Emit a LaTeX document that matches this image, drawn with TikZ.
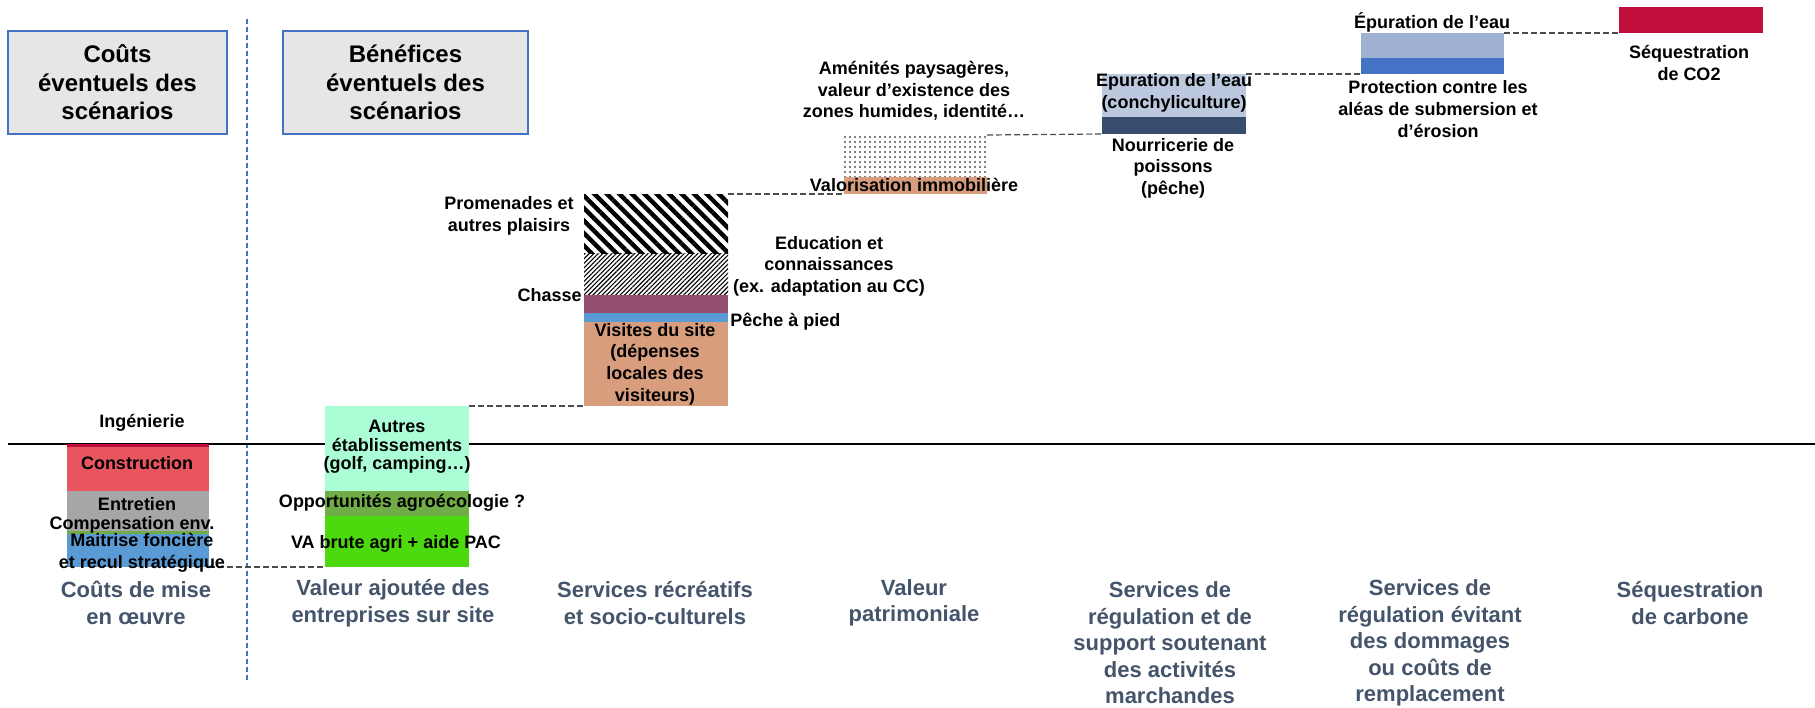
\documentclass[tikz,border=0pt]{standalone}
\usepackage{fontspec}
\setmainfont{Liberation Sans}
\usepackage{tikz}
\usetikzlibrary{positioning, fit, patterns.meta}
\usepackage{xcolor}

\definecolor{boxblue}{HTML}{4472C4}
\definecolor{boxgray}{HTML}{E7E6E6}
\definecolor{catblue}{HTML}{44546A}
\definecolor{crimson}{HTML}{C20E3D}
\definecolor{corail}{HTML}{E8555F}
\definecolor{grisclair}{HTML}{A6A6A6}
\definecolor{vertolive}{HTML}{70AD47}
\definecolor{bleuciel}{HTML}{5B9BD5}
\definecolor{menthe}{HTML}{AAFDD4}
\definecolor{vertvif}{HTML}{4CD90E}
\definecolor{prune}{HTML}{944E6E}
\definecolor{sable}{HTML}{D79D7D}
\definecolor{acier}{HTML}{BCC8DE}
\definecolor{marine}{HTML}{384D6D}
\definecolor{lavande}{HTML}{9FB1D2}
\definecolor{bleuroi}{HTML}{4472C4}

\begin{document}
\begin{tikzpicture}[
        x=0.5pt, y=-0.5pt,
        node distance=2pt,
        seg/.style={inner sep=0pt, outer sep=0pt},
        lbl/.style={font=\bfseries\fontsize{9}{10.8}\selectfont, align=center, inner sep=0pt},
        cat/.style={font=\bfseries\fontsize{11}{13.25}\selectfont, align=center, inner sep=0pt, text=catblue},
        titre/.style={draw=boxblue, fill=boxgray, line width=1pt, align=center, inner sep=0pt, minimum height=51.5pt, font=\bfseries\fontsize{12}{14.25}\selectfont},
        palier/.style={draw=black!70, line width=0.6pt, dash pattern=on 3pt off 1.5pt},
        separ/.style={draw=boxblue, line width=1pt, dash pattern=on 2.5pt off 1.5pt}
    ]
    \useasboundingbox (0,0) rectangle (1815,707);

    \node[titre, minimum width=109.5pt] (couts) at (117.5,82.5) {Coûts\\éventuels des\\scénarios};
    \node[titre, minimum width=122.5pt] (benef) at (405.5,82.5) {Bénéfices\\éventuels des\\scénarios};

    \coordinate (sephaut) at (247,19);
    \coordinate (sepbas) at (247,683);
    \coordinate (axeg) at (8,444);
    \coordinate (axed) at (1815,444);
    \draw[separ] (sephaut) -- (sepbas);
    \draw[line width=1pt] (axeg) -- (axed);

    \node[seg, fill=crimson, fit={(67,444) (209,447)}] (inge) {};
    \node[seg, fill=corail, fit={(67,447) (209,491)}] (constr) {};
    \node[seg, fill=grisclair, fit={(67,491) (209,531)}] (entretien) {};
    \node[seg, fill=vertolive, fit={(67,531) (209,534)}] (compens) {};
    \node[seg, fill=bleuciel, fit={(67,534) (209,567)}] (maitrise) {};

    \node[seg, fill=menthe, fit={(325,406) (469,491)}] (autres) {};
    \node[seg, fill=vertolive, fit={(325,491) (469,516)}] (agroeco) {};
    \node[seg, fill=vertvif, fit={(325,516) (469,567)}] (vabrute) {};

    \node[seg, pattern={Lines[angle=-45, distance=4.4pt, line width=2.2pt]}, fit={(584,194) (728,253)}] (promenades) {};
    \node[seg, pattern={Lines[angle=45, distance=1.6pt, line width=0.55pt]}, fit={(584,253) (728,295)}] (education) {};
    \node[seg, fill=prune, fit={(584,295) (728,313)}] (chasse) {};
    \node[seg, fill=bleuciel, fit={(584,313) (728,322)}] (peche) {};
    \node[seg, fill=sable, fit={(584,322) (728,406)}] (visites) {};

    \node[seg, pattern={Dots[distance=2.5pt, radius=0.4pt]}, fit={(844,135) (987,177)}] (amenites) {};
    \node[seg, fill=sable, fit={(844,177) (987,194)}] (valorisation) {};

    \node[seg, fill=acier, fit={(1102,74) (1246,117)}] (conchy) {};
    \node[seg, fill=marine, fit={(1102,117) (1246,134)}] (nourricerie) {};

    \node[seg, fill=lavande, fit={(1361,33) (1504,58)}] (epurtop) {};
    \node[seg, fill=bleuroi, fit={(1361,58) (1504,74)}] (protection) {};

    \node[seg, fill=crimson, fit={(1619,7) (1763,33)}] (co2) {};

    \draw[palier] (maitrise.south east) -- (vabrute.south west);
    \draw[palier] (autres.north east) -- (visites.south west);
    \draw[palier] (promenades.north east) -- (valorisation.south west);
    \draw[palier] (amenites.north east) -- (nourricerie.south west);
    \draw[palier] (conchy.north east) -- (protection.south west);
    \draw[palier] (epurtop.north east) -- (co2.south west);

    \node[lbl] (ingelbl) at (142,423) {Ingénierie};
    \node[lbl] (constrlbl) at (137,463) {Construction};
    \node[lbl] (entretienlbl) at (137,504) {Entretien};
    \node[lbl] (compenslbl) at (132,525) {Compensation env.};
    \node[lbl] (maitriselbl) at (142,553) {Maitrise foncière\\et recul stratégique};
    \node[lbl, font=\bfseries\fontsize{9}{9.3}\selectfont] (autreslbl) at (397,447) {Autres\\établissements\\(golf, camping…)};
    \node[lbl] (agroecolbl) at (402,503) {Opportunités agroécologie ?};
    \node[lbl] (vabrutelbl) at (396,544) {VA brute agri + aide PAC};

    \node[lbl] (promenadeslbl) at (509,216) {Promenades et\\autres plaisirs};
    \node[lbl] (educationlbl) at (829,266) {Education et\\connaissances\\(ex. adaptation au CC)};
    \node[lbl, left=1pt of chasse.north west] (chasselbl) {Chasse};
    \node[lbl, right=1pt of peche.south east] (pechelbl) {Pêche à pied};
    \node[lbl] (visiteslbl) at (655,364) {Visites du site\\(dépenses\\locales des\\visiteurs)};

    \node[lbl] (amenaiteslbl) at (914,91) {Aménités paysagères,\\valeur d’existence des\\zones humides, identité…};
    \node[lbl] (valorisationlbl) at (914,185) {Valorisation immobilière};
    \node[lbl] (conchylbl) at (1174,93) {Epuration de l’eau\\(conchyliculture)};
    \node[lbl] (nourricerielbl) at (1173,168) {Nourricerie de\\poissons\\(pêche)};
    \node[lbl] (epurtoplbl) at (1432,22) {Épuration de l’eau};
    \node[lbl] (protectionlbl) at (1438,109) {Protection contre les\\aléas de submersion et\\d’érosion};
    \node[lbl] (co2lbl) at (1689,63) {Séquestration\\de CO2};

    \node[cat] (misecat) at (136,603) {Coûts de mise\\en œuvre};
    \node[cat] (entreprisescat) at (393,603) {Valeur ajoutée des\\entreprises sur site};
    \node[cat] (recreatifscat) at (655,603) {Services récréatifs\\et socio-culturels};
    \node[cat] (patrimoinecat) at (914,603) {Valeur\\patrimoniale};
    \node[cat] (marchandescat) at (1170,643) {Services de\\régulation et de\\support soutenant\\des activités\\marchandes};
    \node[cat] (dommagescat) at (1430,643) {Services de\\régulation évitant\\des dommages\\ou coûts de\\remplacement};
    \node[cat] (carbonecat) at (1690,603) {Séquestration\\de carbone};
\end{tikzpicture}
\end{document}
